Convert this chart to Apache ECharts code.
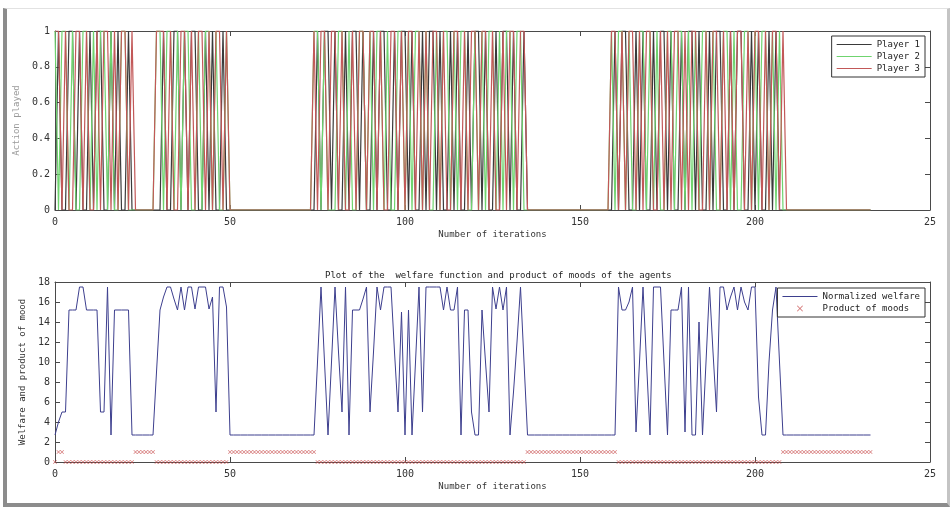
<!DOCTYPE html>
<html>
<head>
<meta charset="utf-8">
<script src="https://cdn.jsdelivr.net/npm/echarts@6/dist/echarts.min.js"></script>
<style>
  html, body { margin: 0; padding: 0; background: #fff; }
  #chart { position: absolute; left: 0; top: 0; width: 951px; height: 508px; }
  #frame { position: absolute; left: 3px; top: 8px; width: 940px; height: 494px;
           border-left: 4px solid #8c8c8c; border-bottom: 4px solid #8c8c8c;
           border-right: 3px solid #c4c4c4; border-top: 1px solid #e2e2e2; pointer-events: none; }
</style>
</head>
<body>
<div id="chart"></div>
<div id="frame"></div>
<script>
// x tick labels (the last one is cut off in the original figure)
var xTickLabels = ['0', '50', '100', '150', '200', '25'];

// action played by each player, one value per iteration (0..233)
var player1 = [
  0,1,0,0,1,1,0,1,0,0, 1,0,1,1,0,0,1,0,1,0, 0,1,0,0,0,0,0,0,0,0, 0,1,0,0,1,1,0,1,0,1,
  1,0,0,1,0,1,0,0,1,0, 0,0,0,0,0,0,0,0,0,0, 0,0,0,0,0,0,0,0,0,0, 0,0,0,0,0,1,0,1,1,0,
  1,0,0,1,0,1,1,0,1,0, 0,1,0,1,1,0,0,1,0,1, 1,0,1,0,0,1,0,1,1,0, 1,0,0,1,0,1,0,0,1,0,
  1,1,0,1,0,0,1,0,1,1, 0,1,0,0,1,0,0,0,0,0, 0,0,0,0,0,0,0,0,0,0, 0,0,0,0,0,0,0,0,0,0,
  1,0,1,1,0,0,1,0,1,0, 0,1,0,1,1,0,1,0,0,1, 0,1,1,0,1,0,0,1,0,1, 1,0,0,1,0,1,1,0,0,1,
  0,1,0,0,1,0,1,0,0,0, 0,0,0,0,0,0,0,0,0,0, 0,0,0,0,0,0,0,0,0,0, 0,0,0,0
];
var player2 = [
  1,0,1,1,0,1,0,0,1,1, 0,1,0,1,1,0,1,0,0,1, 1,0,0,0,0,0,0,0,0,1, 1,0,1,1,0,1,0,1,1,0,
  0,1,0,1,1,0,1,0,0,1, 0,0,0,0,0,0,0,0,0,0, 0,0,0,0,0,0,0,0,0,0, 0,0,0,0,1,1,0,1,0,0,
  0,1,1,0,1,0,0,1,1,0, 1,0,1,1,0,1,0,0,1,1, 0,1,0,1,1,0,1,0,0,1, 0,1,1,0,1,0,1,1,0,0,
  1,0,1,0,1,1,0,1,0,1, 1,0,1,1,0,0,0,0,0,0, 0,0,0,0,0,0,0,0,0,0, 0,0,0,0,0,0,0,0,0,1,
  0,1,1,0,1,0,0,1,1,0, 1,0,1,0,0,1,1,0,1,1, 0,1,0,1,0,1,1,0,1,0, 0,1,1,0,1,0,0,1,1,0,
  1,0,1,1,0,1,0,1,0,0, 0,0,0,0,0,0,0,0,0,0, 0,0,0,0,0,0,0,0,0,0, 0,0,0,0
];
var player3 = [
  1,1,0,1,0,0,1,1,0,1, 0,0,1,0,1,1,0,1,0,1, 1,0,1,0,0,0,0,0,0,1, 1,1,0,1,0,0,1,1,0,1,
  0,1,1,0,1,0,1,1,0,1, 0,0,0,0,0,0,0,0,0,0, 0,0,0,0,0,0,0,0,0,0, 0,0,0,0,1,0,1,1,0,1,
  1,0,1,0,0,1,0,1,1,0, 1,1,0,1,0,0,1,1,0,1, 0,1,1,0,1,0,1,0,1,1, 0,1,0,0,1,1,0,1,0,1,
  1,0,1,1,0,1,0,0,1,0, 1,1,0,1,1,0,0,0,0,0, 0,0,0,0,0,0,0,0,0,0, 0,0,0,0,0,0,0,0,0,1,
  1,0,1,0,1,1,0,1,0,1, 1,0,0,1,0,1,0,1,1,0, 1,0,1,1,0,0,1,0,1,1, 0,1,0,1,0,1,1,0,1,0,
  1,1,0,1,0,1,1,0,1,0, 0,0,0,0,0,0,0,0,0,0, 0,0,0,0,0,0,0,0,0,0, 0,0,0,0
];

// normalized welfare per iteration
var welfare = [
  2.7,4,5,5,15.2,15.2,15.2,17.5,17.5,15.2, 15.2,15.2,15.2,5,5,17.5,2.7,15.2,15.2,15.2,
  15.2,15.2,2.7,2.7,2.7,2.7,2.7,2.7,2.7,9, 15.2,16.5,17.5,17.5,16.3,15.2,17.5,15.2,17.5,17.5,
  15.3,17.5,17.5,17.5,15.3,16.5,5,17.5,17.5,15.5, 2.7,2.7,2.7,2.7,2.7,2.7,2.7,2.7,2.7,2.7,
  2.7,2.7,2.7,2.7,2.7,2.7,2.7,2.7,2.7,2.7, 2.7,2.7,2.7,2.7,2.7,10,17.5,10,2.7,10,
  17.5,11,5,17.5,2.7,15.2,15.2,15.2,16.3,17.5, 5,11,17.5,15.2,17.5,17.5,17.5,11,5,15,
  2.7,15.2,2.7,10,17.5,5,17.5,17.5,17.5,17.5, 17.5,15.2,17.5,15.2,15.2,17.5,2.7,15.2,15.2,5,
  2.7,2.7,15.2,10,5,17.5,15.3,17.5,15.2,17.5, 2.7,7,12,17.5,10,2.7,2.7,2.7,2.7,2.7,
  2.7,2.7,2.7,2.7,2.7,2.7,2.7,2.7,2.7,2.7, 2.7,2.7,2.7,2.7,2.7,2.7,2.7,2.7,2.7,2.7,
  2.7,17.5,15.2,15.2,16,17.5,3,10,17.5,10, 2.7,17.5,17.5,17.5,10,2.7,15.2,15.2,15.2,17.5,
  3,17.5,2.7,2.7,14,2.7,10,17.5,11,5, 17.5,17.5,15.2,16.5,17.5,15.2,17.5,16,15.2,17.5,
  17.5,6.5,2.7,2.7,10,15.2,17.5,10,2.7,2.7, 2.7,2.7,2.7,2.7,2.7,2.7,2.7,2.7,2.7,2.7,
  2.7,2.7,2.7,2.7,2.7,2.7,2.7,2.7,2.7,2.7, 2.7,2.7,2.7,2.7
];

// product of moods per iteration
var moods = [
  0,1,1,0,0,0,0,0,0,0, 0,0,0,0,0,0,0,0,0,0, 0,0,0,1,1,1,1,1,1,0, 0,0,0,0,0,0,0,0,0,0,
  0,0,0,0,0,0,0,0,0,0, 1,1,1,1,1,1,1,1,1,1, 1,1,1,1,1,1,1,1,1,1, 1,1,1,1,1,0,0,0,0,0,
  0,0,0,0,0,0,0,0,0,0, 0,0,0,0,0,0,0,0,0,0, 0,0,0,0,0,0,0,0,0,0, 0,0,0,0,0,0,0,0,0,0,
  0,0,0,0,0,0,0,0,0,0, 0,0,0,0,0,1,1,1,1,1, 1,1,1,1,1,1,1,1,1,1, 1,1,1,1,1,1,1,1,1,1,
  1,0,0,0,0,0,0,0,0,0, 0,0,0,0,0,0,0,0,0,0, 0,0,0,0,0,0,0,0,0,0, 0,0,0,0,0,0,0,0,0,0,
  0,0,0,0,0,0,0,0,1,1, 1,1,1,1,1,1,1,1,1,1, 1,1,1,1,1,1,1,1,1,1, 1,1,1,1
];

var FONT = 'DejaVu Sans Mono';
var AXIS = '#4a4a4a';
var xMark = 'path://M0,1L1,0L5,4L9,0L10,1L6,5L10,9L9,10L5,6L1,10L0,9L4,5Z';
var lineIcon = 'path://M0,0L36,0L36,1L0,1Z';

function pairs(arr) {
  return arr.map(function (v, i) { return [i, v]; });
}

function xAxisFor(grid, pos) {
  var main = pos === 'bottom';
  return {
    gridIndex: grid, type: 'value', min: 0, max: 250, interval: 50, position: pos, z: 3,
    axisLine: { onZero: false, lineStyle: { color: AXIS, width: 1 } },
    axisTick: { inside: true, length: 5, lineStyle: { color: AXIS } },
    axisLabel: {
      show: main, margin: 7, fontFamily: FONT, fontSize: 10, color: '#333',
      formatter: function (v) { return xTickLabels[Math.round(v / 50)]; }
    },
    splitLine: { show: false },
    name: main ? 'Number of iterations' : '', nameLocation: 'middle', nameGap: 20,
    nameTextStyle: { fontFamily: FONT, fontSize: 9, color: '#333' }
  };
}

function yAxisFor(grid, pos, max, interval, name, nameColor) {
  var main = pos === 'left';
  return {
    gridIndex: grid, type: 'value', min: 0, max: max, interval: interval, position: pos, z: 3,
    axisLine: { onZero: false, lineStyle: { color: AXIS, width: 1 } },
    axisTick: { inside: true, length: 5, lineStyle: { color: AXIS } },
    axisLabel: { show: main, margin: 5, fontFamily: FONT, fontSize: 10, color: '#333' },
    splitLine: { show: false },
    name: main ? name : '', nameLocation: 'middle', nameGap: 23,
    nameTextStyle: { fontFamily: FONT, fontSize: 9, color: nameColor }
  };
}

var legendBase = {
  orient: 'vertical', right: 26, padding: [4, 5], itemGap: 3, itemWidth: 35,
  borderColor: '#333', borderWidth: 1, borderRadius: 0, backgroundColor: '#fff',
  textStyle: { fontFamily: FONT, fontSize: 9, color: '#222' }
};

var chart = echarts.init(document.getElementById('chart'));
chart.setOption({
  animation: false,
  backgroundColor: 'transparent',
  title: {
    text: 'Plot of the  welfare function and product of moods of the agents',
    left: 320, top: 266,
    textStyle: { fontFamily: FONT, fontSize: 9, fontWeight: 'normal', color: '#222' }
  },
  grid: [
    { left: 55, right: 21, top: 31, height: 179 },
    { left: 55, right: 21, top: 282, height: 180 }
  ],
  legend: [
    Object.assign({}, legendBase, { top: 36, itemHeight: 10,
      data: [
        { name: 'Player 1', icon: lineIcon },
        { name: 'Player 2', icon: lineIcon },
        { name: 'Player 3', icon: lineIcon }
      ] }),
    Object.assign({}, legendBase, { top: 288, itemHeight: 6,
      data: [
        { name: 'Normalized welfare', icon: lineIcon },
        { name: 'Product of moods', icon: xMark }
      ] })
  ],
  xAxis: [xAxisFor(0, 'bottom'), xAxisFor(0, 'top'), xAxisFor(1, 'bottom'), xAxisFor(1, 'top')],
  yAxis: [
    yAxisFor(0, 'left', 1, 0.2, 'Action played', '#999'),
    yAxisFor(0, 'right', 1, 0.2, '', '#999'),
    yAxisFor(1, 'left', 18, 2, 'Welfare and product of mood', '#333'),
    yAxisFor(1, 'right', 18, 2, '', '#333')
  ],
  series: [
    { name: 'Player 1', type: 'line', xAxisIndex: 0, yAxisIndex: 0, data: pairs(player1),
      symbol: 'none', color: '#3a3a3a', lineStyle: { color: '#3a3a3a', width: 1.2 } },
    { name: 'Player 2', type: 'line', xAxisIndex: 0, yAxisIndex: 0, data: pairs(player2),
      symbol: 'none', color: '#6fd46f', lineStyle: { color: '#6fd46f', width: 1.2 } },
    { name: 'Player 3', type: 'line', xAxisIndex: 0, yAxisIndex: 0, data: pairs(player3),
      symbol: 'none', color: '#c25858', lineStyle: { color: '#c25858', width: 1.2 } },
    { name: 'Normalized welfare', type: 'line', xAxisIndex: 2, yAxisIndex: 2, data: pairs(welfare),
      symbol: 'none', color: '#3d3f8e', lineStyle: { color: '#3d3f8e', width: 1 } },
    { name: 'Product of moods', type: 'scatter', xAxisIndex: 2, yAxisIndex: 2, data: pairs(moods),
      symbol: xMark, symbolSize: 4, z: 5, itemStyle: { color: '#c84f4f' } }
  ]
});
</script>
</body>
</html>
